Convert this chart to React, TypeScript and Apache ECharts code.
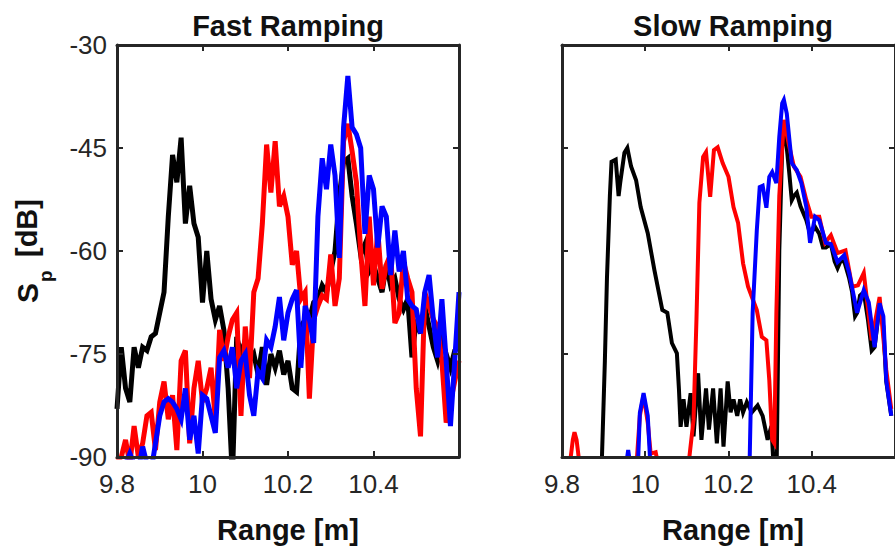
import { useEffect, useRef } from "react";
import * as echarts from "echarts";

// ---- Fast ramping panel (uniform range samples, m) ----
const fastRange = [
  9.80, 9.81, 9.82, 9.83, 9.84, 9.85, 9.86, 9.87, 9.88, 9.89,
  9.90, 9.91, 9.92, 9.93, 9.94, 9.95, 9.96, 9.97, 9.98, 9.99,
  10.00, 10.01, 10.02, 10.03, 10.04, 10.05, 10.06, 10.07, 10.08, 10.09,
  10.10, 10.11, 10.12, 10.13, 10.14, 10.15, 10.16, 10.17, 10.18, 10.19,
  10.20, 10.21, 10.22, 10.23, 10.24, 10.25, 10.26, 10.27, 10.28, 10.29,
  10.30, 10.31, 10.32, 10.33, 10.34, 10.35, 10.36, 10.37, 10.38, 10.39,
  10.40, 10.41, 10.42, 10.43, 10.44, 10.45, 10.46, 10.47, 10.48, 10.49,
  10.50, 10.51, 10.52, 10.53, 10.54, 10.55, 10.56, 10.57, 10.58, 10.59,
  10.60,
];
const fastBlack = [
  -83, -74, -80, -82, -74, -77, -74, -74.5, -72.5, -72,
  -69, -66, -55, -46, -50, -43.5, -56, -50.5, -56, -58,
  -67.5, -60, -67, -70, -68, -71.5, -80, -93, -72.5, -75,
  -73, -76, -75, -78, -74, -79.5, -75, -77, -74.5, -78,
  -76, -80, -80.5, -71, -70, -70, -67.5, -67, -65, -66,
  -63, -60, -52, -47, -46.5, -52, -56, -60.5, -59, -63,
  -62, -64, -66, -62, -65, -64, -67, -68.5, -67, -75.5,
  -70, -72, -68, -71, -74, -76, -73, -75, -77, -74.5,
  -74,
];
const fastRed = [
  -90.5, -90, -87.5, -91, -85.5, -90, -88, -84, -83.5, -89,
  -82, -79, -84.5, -81, -89, -76, -74.5, -88, -80, -76,
  -82, -80, -77, -84.5, -71.5, -76, -72.5, -70, -69, -84,
  -71, -78.5, -66, -64, -56, -44.5, -51.5, -44, -53.5, -52,
  -55, -62, -60, -67, -66, -81.5, -70, -68, -66.5, -67,
  -60.5, -68, -64, -44, -41.5, -45.5, -50, -60, -68, -55,
  -65, -57, -65.5, -62, -60.5, -70.5, -69, -61.5, -64, -66,
  -80, -87, -66, -68, -70, -71, -76, -85, -82, -79,
  -76,
];
const fastBlue = [
  -92, -92, -91, -89.5, -91, -92, -88.5, -91, -92, -88,
  -84, -82, -81.5, -82, -83, -84.5, -80, -87.5, -84, -89.5,
  -81, -81.5, -84, -86.5, -75.5, -74.5, -77, -74, -80, -76,
  -75, -81, -84, -77.5, -78.5, -73, -74, -71, -66.7, -73,
  -69, -67, -65.7, -77, -68, -70, -73.4, -55, -46.5, -51,
  -44.5, -49, -61, -42, -34.5, -42, -43, -45, -57.5, -49,
  -51, -59.5, -53.5, -55, -63.5, -57, -63, -60, -67, -68,
  -68.5, -72, -66, -63.5, -70, -75.5, -67, -76, -85.5, -76,
  -66,
];

// ---- Slow ramping panel ----
const slowBlackRange = [
  9.889, 9.896, 9.903, 9.908, 9.915, 9.919, 9.929, 9.936, 9.940, 9.950,
  9.957, 9.966, 9.978, 9.989, 10.006, 10.022, 10.041, 10.053, 10.064, 10.076,
  10.081, 10.085, 10.092, 10.099, 10.109, 10.116, 10.127, 10.135, 10.146, 10.153,
  10.163, 10.172, 10.181, 10.188, 10.198, 10.205, 10.212, 10.221, 10.228, 10.235,
  10.244, 10.256, 10.270, 10.282, 10.294, 10.303, 10.308, 10.315, 10.322, 10.329,
  10.333, 10.340, 10.345, 10.352, 10.357, 10.364, 10.373, 10.387, 10.396, 10.408,
  10.418, 10.427, 10.434, 10.446, 10.455, 10.462, 10.469, 10.478, 10.490, 10.497,
  10.504, 10.509, 10.516, 10.525, 10.535, 10.544, 10.551, 10.563, 10.572, 10.579,
  10.591,
];
const slowBlack = [
  -96, -90, -76, -64, -52, -47, -46.7, -52, -50, -45.7,
  -45, -47.7, -49.7, -53.6, -57.4, -62.8, -68.6, -69, -73.4, -74.9,
  -80.2, -85.6, -81.6, -85.6, -80.7, -87, -77.8, -87.5, -80, -86,
  -80, -88, -80, -88.5, -79, -83.5, -81.6, -84, -81.6, -83.5,
  -82, -83.5, -82.5, -84, -87.5, -85.5, -91, -95, -60, -45,
  -41.5, -45, -48, -52.6, -52, -51.5, -53.5, -55.5, -57.5, -56.5,
  -57.5, -59.5, -59.5, -59, -61.5, -62.5, -61.5, -61.5, -64, -66,
  -69.5, -69, -66.5, -66, -70, -74.5, -74, -68, -71, -79,
  -84,
];
const slowRedRange = [
  9.80, 9.812, 9.819, 9.826, 9.830, 9.835, 9.842, 9.85, 9.97, 9.978,
  9.987, 9.996, 10.006, 10.013, 10.025, 10.034, 10.045, 10.099, 10.106, 10.116,
  10.123, 10.130, 10.139, 10.146, 10.156, 10.165, 10.174, 10.186, 10.200, 10.212,
  10.223, 10.235, 10.247, 10.258, 10.268, 10.280, 10.291, 10.298, 10.305, 10.310,
  10.315, 10.322, 10.333, 10.345, 10.357, 10.373, 10.387, 10.399, 10.418, 10.432,
  10.446, 10.462, 10.481, 10.497, 10.511, 10.525, 10.544, 10.563, 10.579, 10.591,
];
const slowRed = [
  -96, -96, -91, -87.5, -86.4, -87.5, -91, -96, -96, -92,
  -84, -81, -85, -89.5, -89.3, -92, -96, -95, -90, -84.6,
  -70, -53, -46.3, -45.6, -52.1, -45.3, -44.9, -47.2, -49.2, -53.6,
  -55.9, -61.8, -65.2, -67, -68.6, -72.5, -73, -78.8, -87.5, -88,
  -69, -52, -40.9, -44.5, -47.7, -49.2, -52.6, -55, -55, -58.8,
  -57.7, -60.3, -59.9, -65.2, -65, -63.2, -73, -66.7, -77.3, -83,
];
const slowBlueRange = [
  9.80, 9.945, 9.952, 9.959, 9.966, 9.975, 9.982, 9.987, 9.996, 10.006,
  10.013, 10.02, 10.24, 10.247, 10.251, 10.258, 10.268, 10.275, 10.282, 10.291,
  10.298, 10.305, 10.315, 10.322, 10.329, 10.333, 10.340, 10.352, 10.364, 10.375,
  10.387, 10.396, 10.408, 10.418, 10.434, 10.446, 10.462, 10.478, 10.490, 10.509,
  10.525, 10.537, 10.551, 10.563, 10.572, 10.579, 10.591,
];
const slowBlue = [
  -96, -96, -92, -89, -92, -96, -92, -83.6, -80.7, -84,
  -92, -96, -96, -95, -90, -69, -57, -50.7, -50.5, -53.7,
  -49.2, -48.5, -50.1, -43.4, -38.5, -38, -40, -47.2, -48.2, -50.1,
  -53.6, -58.8, -55, -55.5, -58.8, -59, -61.6, -60.6, -63.2, -69,
  -65.7, -67.5, -74, -67.6, -69.5, -78.8, -84,
];

const panelTitles = ["Fast Ramping", "Slow Ramping"];
const xAxisTitle = "Range [m]";
const rangeMin = 9.8;
const rangeMax = 10.6;
const rangeStep = 0.2;
const dbMin = -90;
const dbMax = -30;
const dbStep = 15;

const FONT = '"Liberation Sans", Arial, Helvetica, sans-serif';
const AX = "#262626";
const TXT = "#111";

const pairs = (xs: number[], ys: number[]) => xs.map((x, i) => [x, ys[i]]);

function xAx(grid: number, pos: string, labels: boolean) {
  return {
    type: "value",
    gridIndex: grid,
    position: pos,
    min: rangeMin,
    max: rangeMax,
    interval: rangeStep,
    z: 5,
    axisLine: { show: true, onZero: false, lineStyle: { color: AX, width: 3 } },
    axisTick: { show: true, inside: true, length: 6, lineStyle: { color: AX, width: 2 } },
    axisLabel: {
      show: labels,
      color: AX,
      fontSize: 26,
      fontFamily: FONT,
      margin: 14,
      showMinLabel: true,
      showMaxLabel: false,
    },
    splitLine: { show: false },
  };
}
function yAx(grid: number, pos: string, labels: boolean) {
  return {
    type: "value",
    gridIndex: grid,
    position: pos,
    min: dbMin,
    max: dbMax,
    interval: dbStep,
    z: 5,
    axisLine: { show: true, onZero: false, lineStyle: { color: AX, width: 3 } },
    axisTick: { show: true, inside: true, length: 6, lineStyle: { color: AX, width: 2 } },
    axisLabel: {
      show: labels,
      color: AX,
      fontSize: 26,
      fontFamily: FONT,
      margin: 10,
      showMinLabel: true,
      showMaxLabel: true,
    },
    splitLine: { show: false },
  };
}
function line(name: string, data: number[][], color: string, width: number, axis: number) {
  return {
    name,
    type: "line",
    xAxisIndex: axis,
    yAxisIndex: axis,
    data,
    showSymbol: false,
    symbol: "none",
    clip: true,
    silent: true,
    lineStyle: { color, width, join: "miter" },
    z: 2,
  };
}

export default function App() {
  const ref = useRef<HTMLDivElement>(null);
  useEffect(() => {
    const chart = echarts.init(ref.current!, null, { renderer: "svg" });
    const panelCenters = [288, 733];
    const option: any = {
      animation: false,
      backgroundColor: "#fff",
      grid: [
        { left: 117, top: 45, width: 342, height: 412, containLabel: false },
        { left: 562, top: 45, width: 342, height: 412, containLabel: false },
      ],
      xAxis: [xAx(0, "bottom", true), xAx(0, "top", false), xAx(1, "bottom", true), xAx(1, "top", false)],
      yAxis: [yAx(0, "left", true), yAx(0, "right", false), yAx(1, "left", false), yAx(1, "right", false)],
      series: [
        line("fast-black", pairs(fastRange, fastBlack), "#000000", 5, 0),
        line("fast-red", pairs(fastRange, fastRed), "#ff0000", 5, 0),
        line("fast-blue", pairs(fastRange, fastBlue), "#0000ff", 5, 0),
        line("slow-black", pairs(slowBlackRange, slowBlack), "#000000", 4, 2),
        line("slow-red", pairs(slowRedRange, slowRed), "#ff0000", 4, 2),
        line("slow-blue", pairs(slowBlueRange, slowBlue), "#0000ff", 4, 2),
      ],
      graphic: [
        ...panelTitles.map((t, i) => ({
          type: "text",
          x: panelCenters[i],
          y: 26,
          z: 20,
          style: {
            text: t,
            font: `bold 29px ${FONT}`,
            fill: TXT,
            textAlign: "center",
            textVerticalAlign: "middle",
            verticalAlign: "middle",
          },
        })),
        ...panelCenters.map((cx) => ({
          type: "text",
          x: cx,
          y: 530,
          z: 20,
          style: {
            text: xAxisTitle,
            font: `bold 29px ${FONT}`,
            fill: TXT,
            textAlign: "center",
            textVerticalAlign: "middle",
            verticalAlign: "middle",
          },
        })),
        {
          type: "group",
          x: 27,
          y: 251,
          rotation: Math.PI / 2,
          z: 20,
          children: [
            {
              type: "text",
              style: {
                text: "S",
                x: -52,
                y: 0,
                font: `bold 30px ${FONT}`,
                fill: TXT,
                textAlign: "left",
                textVerticalAlign: "middle",
                verticalAlign: "middle",
              },
            },
            {
              type: "text",
              style: {
                text: "p",
                x: -31,
                y: 18,
                font: `bold 19px ${FONT}`,
                fill: TXT,
                textAlign: "left",
                textVerticalAlign: "middle",
                verticalAlign: "middle",
              },
            },
            {
              type: "text",
              style: {
                text: "[dB]",
                x: -6,
                y: 0,
                font: `bold 29px ${FONT}`,
                fill: TXT,
                textAlign: "left",
                textVerticalAlign: "middle",
                verticalAlign: "middle",
              },
            },
          ],
        },
      ],
    };
    chart.setOption(option);
    return () => chart.dispose();
  }, []);
  return (
    <div
      ref={ref}
      style={{ position: "absolute", left: 0, top: 0, width: 895, height: 546, overflow: "hidden", background: "#fff" }}
    />
  );
}
